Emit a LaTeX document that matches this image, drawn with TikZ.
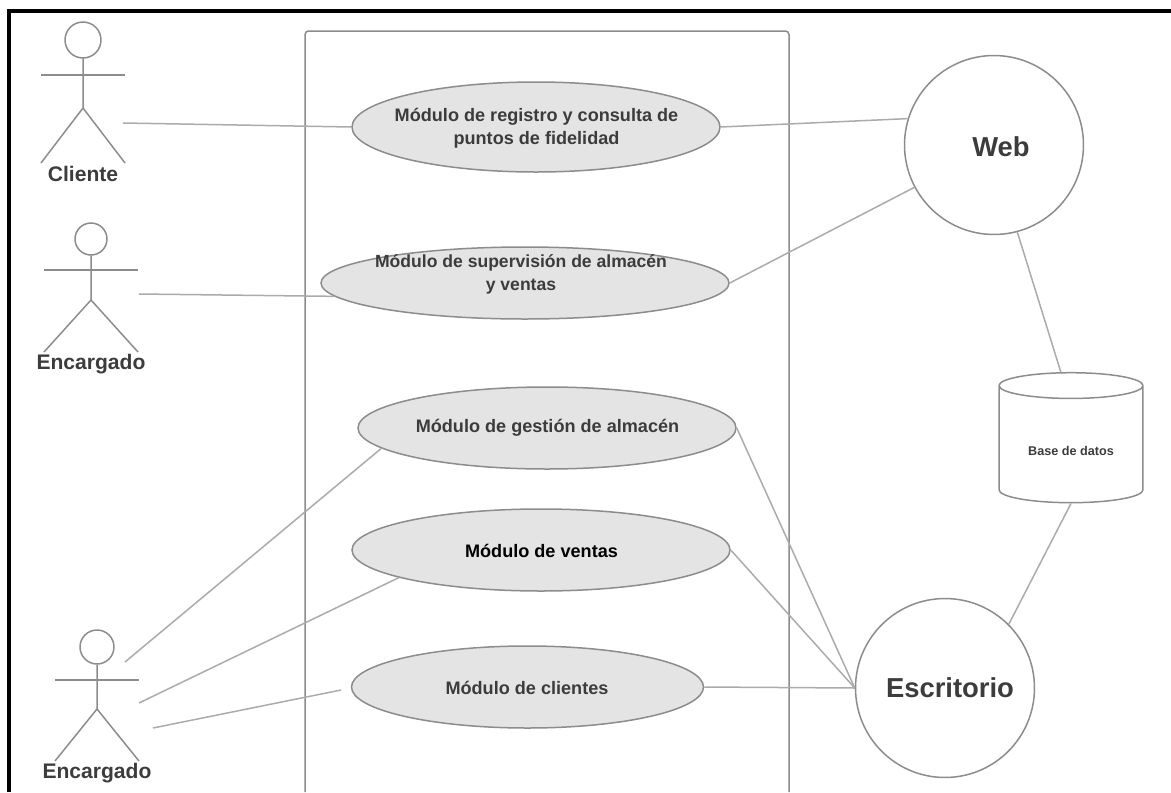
\documentclass[tikz,border=0pt]{standalone}
\usepackage{fontspec}
\setmainfont{Liberation Sans}
\usetikzlibrary{shapes.geometric}
\definecolor{linegray}{HTML}{8C8C8C}
\definecolor{wiregray}{HTML}{ABABAB}
\definecolor{modfill}{HTML}{E4E4E4}
\definecolor{inkgray}{HTML}{3C3C3C}
\tikzset{
  stroke/.style={draw=linegray, line width=0.03cm},
  wire/.style={draw=wiregray, line width=0.03cm},
  actorhead/.style={stroke, circle, inner sep=0pt},
  modshape/.style={stroke, fill=modfill, ellipse, inner sep=0pt},
  modtext/.style={text=inkgray, align=center, font=\bfseries\fontsize{10.3}{13}\selectfont},
  actortext/.style={text=inkgray, font=\bfseries\fontsize{12}{14}\selectfont},
  platform/.style={stroke, circle, inner sep=0pt, minimum size=3.58cm},
  platformtext/.style={text=inkgray, font=\bfseries\fontsize{15.6}{18}\selectfont},
  storetext/.style={text=inkgray, font=\bfseries\fontsize{7.2}{9}\selectfont},
  store/.style={stroke, storetext, cylinder, shape border rotate=90, aspect=0.3, inner sep=0pt, minimum width=2.88cm, minimum height=2.6cm}
}
\begin{document}
\begin{tikzpicture}[x=0.02cm, y=-0.02cm]
\useasboundingbox (0,0) rectangle (1171,792);
%stick figure: name, x, head y, head radius, arm y, hip y, foot y, half width
\def\Actor#1#2#3#4#5#6#7#8{
\node[actorhead, minimum size=#4*0.04cm] (#1) at (#2,#3) {};
\draw[stroke] (#1.south) -- (#2,#6) -- (#2-#8,#7);
\draw[stroke] (#2,#6) -- (#2+#8,#7);
\draw[stroke] (#2-#8,#5) -- (#2+#8,#5);
}
%use case: name, x, y, width, height
\def\Modulo#1#2#3#4#5{
\node[modshape, minimum width=#4*0.02cm, minimum height=#5*0.02cm] (#1) at (#2,#3) {};
}

%page frame
\draw[line width=0.08cm] (9,792) |- (1171,11);

%system box
\draw[stroke, rounded corners=2pt] (305,792) |- (789,31) -- (789,792);

%connectors are below the ellipses
\Modulo{regmod}{536}{127}{368}{90}
\Modulo{supmod}{525}{283}{408}{72}
\Modulo{almmod}{547}{428}{378}{82}
\Modulo{venmod}{541}{550}{378}{82}
\Modulo{climod}{527.5}{687}{352}{82}
\node[modtext] (regtext) at (536.5,128) {Módulo de registro y consulta de\\puntos de fidelidad};
\node[modtext, font=\bfseries\fontsize{10}{13}\selectfont] (suptext) at (521,274.5) {Módulo de supervisión de almacén\\y ventas};
\node[modtext] (almtext) at (547.5,428) {Módulo de gestión de almacén};
\node[modtext, text=black] (ventext) at (541.5,550.5) {Módulo de ventas};
\node[modtext] (clitext) at (527,687.5) {Módulo de clientes};

%actors
\Actor{cliente}{83}{40}{18}{75}{108}{163}{42}
\node[actortext] (clientetext) at (83,174) {Cliente};
\Actor{encsup}{91}{239}{16}{270}{300}{352}{47}
\node[actortext] (encsuptext) at (91,364) {Encargado};
\Actor{encven}{97}{647}{17}{680}{709}{761}{42}
\node[actortext] (encventext) at (97,773) {Encargado};

%right side
\node[platform] (web) at (994,145) {};
\node[platformtext] (webtext) at (1001,147) {Web};
\node[platform] (esc) at (945,688) {};
\node[platformtext] (esctext) at (950,688) {Escritorio};
\node[store] (db) at (1071,444.5) {\phantom{Base de datos}};
\node[storetext] (dbtext) at (1071,451) {Base de datos};

%free ends beside the actors
\coordinate (clienteend) at (123,123);
\coordinate (encsupend) at (139,294);
\coordinate (encalm) at (125,662);
\coordinate (encven2) at (139,703);
\coordinate (enccli) at (153,728);
\coordinate (cliend) at (341,690);

\draw[wire] (clienteend) -- (regmod.west);
\draw[wire] (encsupend) -- (supmod.184);
\draw[wire] (encalm) -- (almmod.187);
\draw[wire] (encven2) -- (venmod.191);
\draw[wire] (enccli) -- (cliend);
\draw[wire] (regmod.east) -- (web.163);
\draw[wire] (supmod.east) -- (web.208);
\draw[wire] (almmod.east) -- (esc.west);
\draw[wire] (venmod.east) -- (esc.west);
\draw[wire] (climod.east) -- (esc.west);
\draw[wire] (web.-75) -- (db.98);
\draw[wire] (db.270) -- (esc.45);
\end{tikzpicture}
\end{document}
